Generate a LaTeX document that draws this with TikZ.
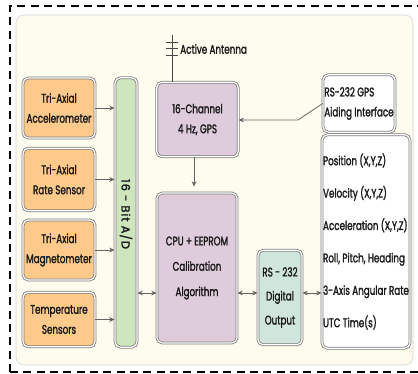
\documentclass[tikz,border=0pt]{standalone}
\usepackage{fontspec}
\setmainfont{Poppins}[FakeStretch=0.7,FakeBold=1.6]
\newfontfamily\barfont{Poppins}[FakeBold=1.8,LetterSpace=9]
\usetikzlibrary{positioning,arrows.meta,calc}
\definecolor{sensor}{RGB}{253,202,140}
\definecolor{adconv}{RGB}{206,230,190}
\definecolor{mauve}{RGB}{222,203,219}
\definecolor{seafoam}{RGB}{208,229,219}
\definecolor{cream}{RGB}{253,252,238}
\definecolor{edge}{RGB}{125,125,125}
\definecolor{ink}{RGB}{25,25,25}
\tikzset{
  blk/.style={draw=edge, line width=0.6pt, double=white, double distance=0.9pt,
    rounded corners=4pt, inner sep=0pt, align=center, text=ink,
    font=\fontsize{9.4}{15}\selectfont},
  sens/.style={blk, fill=sensor, minimum width=54pt},
  link/.style={draw=edge!80!black, line width=0.6pt, -{Stealth[length=4pt,width=3.5pt]}},
  duplex/.style={link, {Stealth[length=4pt,width=3.5pt]}-{Stealth[length=4pt,width=3.5pt]}}
}
\begin{document}
\begin{tikzpicture}[x=0.75pt,y=-0.75pt]
        \useasboundingbox (0,0) rectangle (418,374);
        \draw[black,line width=1pt,dash pattern=on 6pt off 4pt] (10,372) -- (10,6) -- (425,6);
        \draw[black,line width=1pt,dash pattern=on 6pt off 4pt] (10,372) -- (425,372);
        \draw[gray!35,fill=cream,rounded corners=6pt] (16,15) rectangle (413,365);
        % sensor column
        \node[sens, minimum height=45pt] (acc) at (59,108) {Tri-Axial\\Accelerometer};
        \node[sens, minimum height=47pt] (rate) at (59,179.5) {Tri-Axial\\Rate Sensor};
        \node[sens, minimum height=45pt] (mag) at (59,250) {Tri-Axial\\Magnetometer};
        \node[sens, minimum height=41pt] (temp) at (59,319.5) {Temperature\\Sensors};
        \node[blk, fill=adconv, minimum width=16.5pt, minimum height=202pt] (ad) at (126,212.5) {};
        \node[text=ink, font=\barfont\fontsize{8.6}{10}\selectfont, rotate=-90] (adtxt) at (126,214) {16 - Bit A/D};
        % processing
        \node[blk, fill=mauve, minimum width=61pt, minimum height=56pt] (gps) at (197.5,119.5) {16-Channel\\4 Hz, GPS};
        \node[blk, fill=mauve, minimum width=60pt, minimum height=112.5pt, font=\fontsize{9.4}{19}\selectfont] (cpu) at (197,268) {CPU + EEPROM\\Calibration\\Algorithm};
        \node[blk, fill=seafoam, minimum width=33pt, minimum height=71pt, font=\fontsize{9.4}{18}\selectfont] (out) at (280,297.5) {RS - 232\\Digital\\Output};
        \node[blk, fill=white, minimum width=54pt, minimum height=43pt, align=left] (aid) at (359,103.5) {RS-232 GPS\\Aiding Interface};
        \node[blk, fill=white, minimum width=66pt, minimum height=160pt, align=left, font=\fontsize{9.4}{24.3}\selectfont] (res) at (366,241.5)
          {Position (X,Y,Z)\\Velocity (X,Y,Z)\\Acceleration (X,Y,Z)\\Roll, Pitch, Heading\\3-Axis Angular Rate\\UTC Time(s)};
        % antenna
        \coordinate (mast) at (172,35);
        \draw[ink!80,line width=0.5pt] (mast) -- (mast |- gps.north);
        \foreach \h in {42,48,55}
            \draw[ink!80,line width=0.5pt] (166,\h) -- (178,\h);
        \node[anchor=west, text=ink, font=\fontsize{9.4}{10}\selectfont, inner sep=0pt] (ant) at (180,49) {Active Antenna};
        % connectors
        \foreach \s in {acc,rate,mag,temp}
            \draw[link] (\s.east) -- (\s.east -| ad.west);
        \draw[link] (gps.south -| 194,0) -- ($(cpu.north -| 194,0)+(0,-6)$);
        \draw[link] (aid.west) -- (298,120) -- (298,120 -| gps.east);
        \coordinate (bus) at (0,293);
        \draw[duplex] (bus -| ad.east) -- (bus -| cpu.west);
        \draw[duplex] (bus -| cpu.east) -- (bus -| out.west);
        \draw[duplex] (bus -| out.east) -- (bus -| res.west);
      \end{tikzpicture}
\end{document}
